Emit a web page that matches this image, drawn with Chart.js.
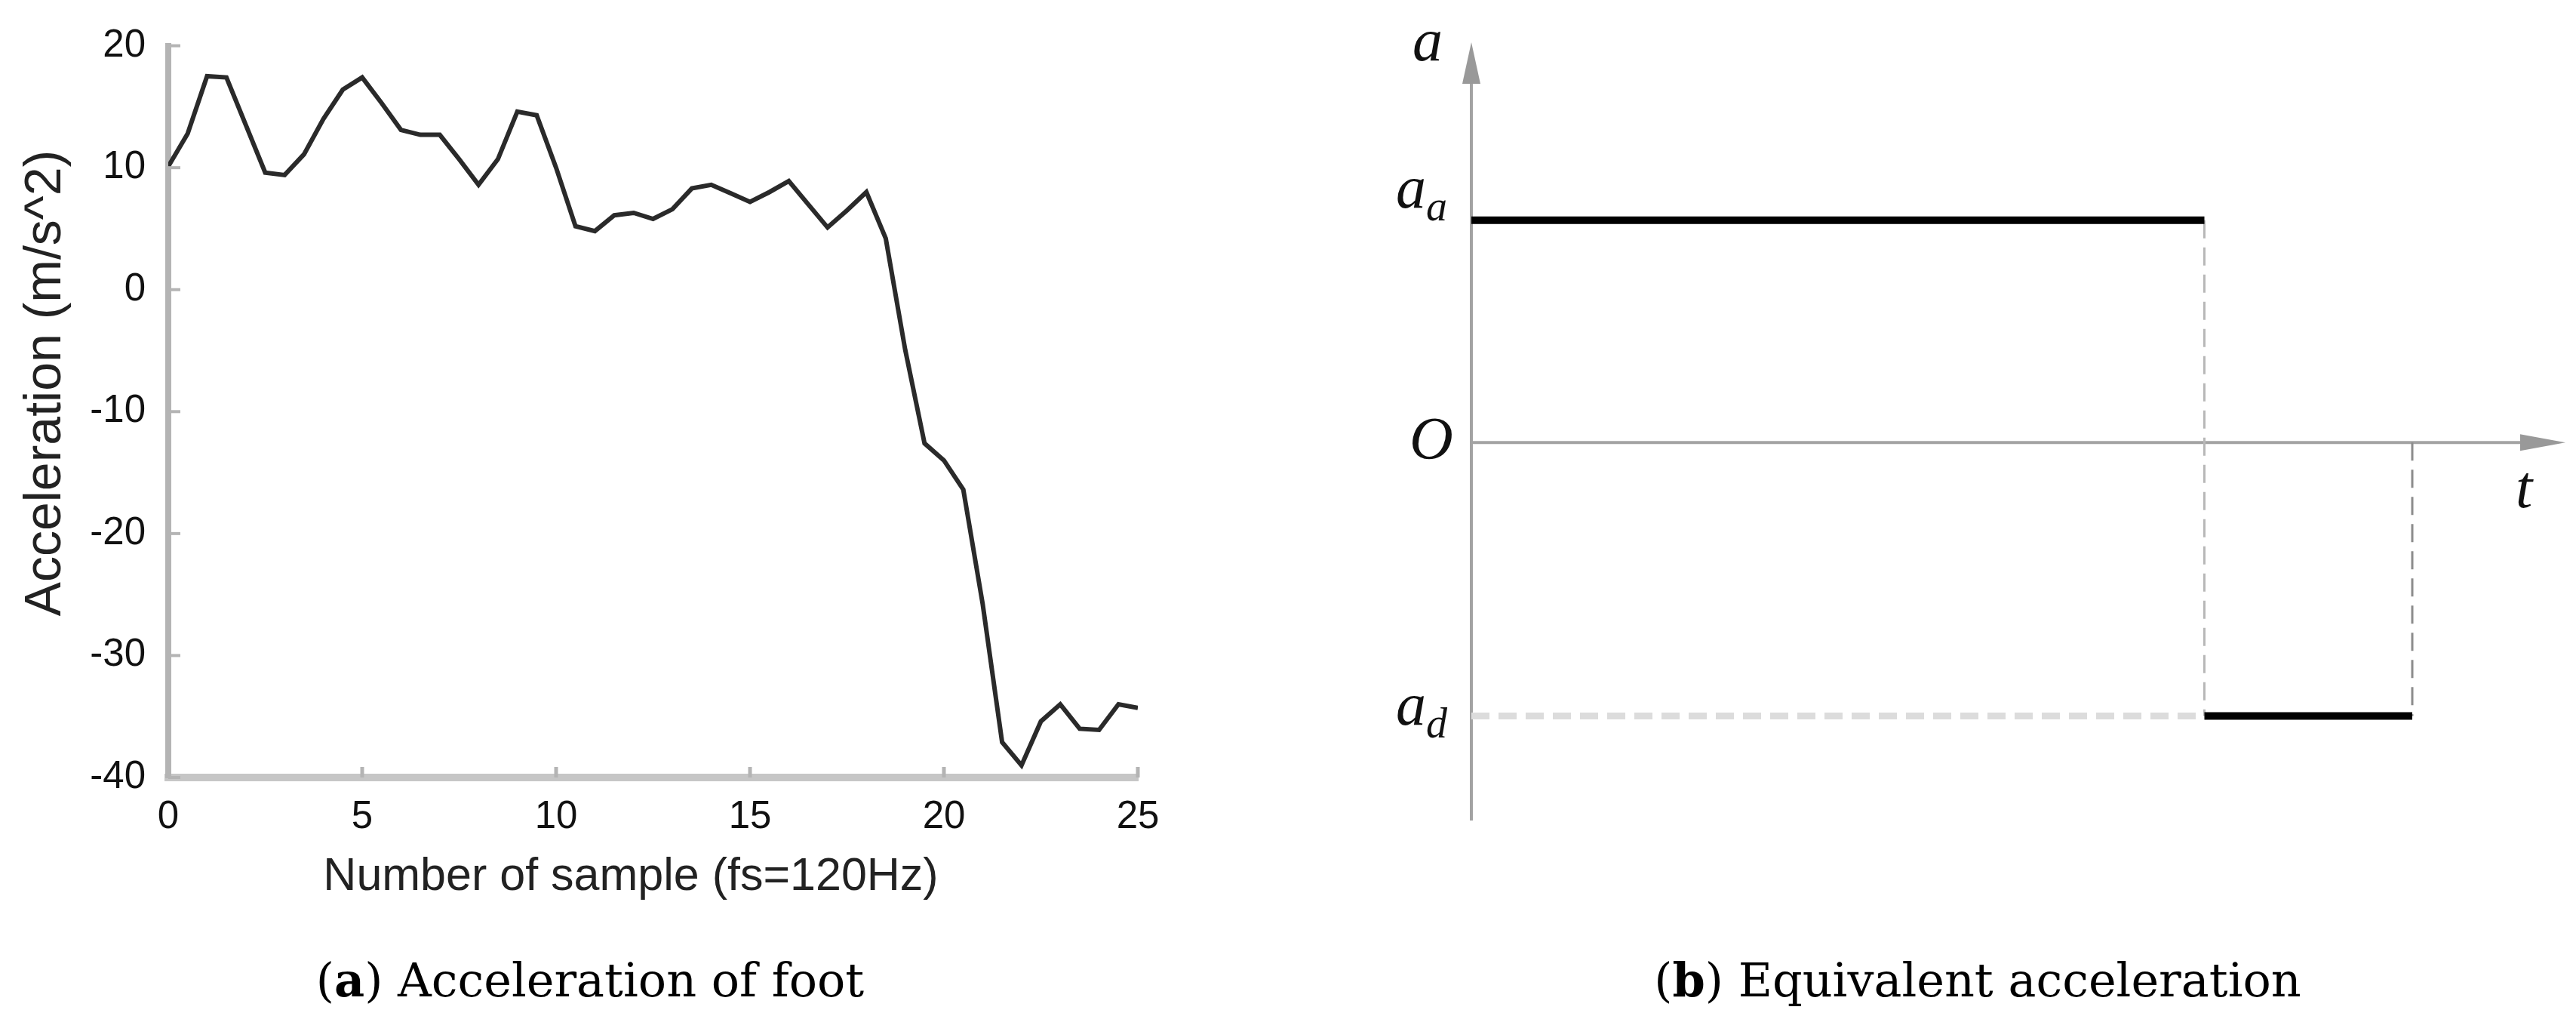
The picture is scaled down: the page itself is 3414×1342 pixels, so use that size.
<!DOCTYPE html>
<html>
<head>
<meta charset="utf-8">
<script src="https://cdn.jsdelivr.net/npm/chart.js@4.4.0/dist/chart.umd.min.js"></script>
<style>
  html, body { margin: 0; padding: 0; background: #fff; }
  body { width: 3414px; height: 1342px; position: relative; overflow: hidden; }
  #wrapA { position: absolute; left: 0; top: 0; width: 1600px; height: 1220px; }
  #wrapB { position: absolute; left: 1760px; top: 0; width: 1654px; height: 1220px; }
  .caption { position: absolute; top: 1263px; line-height: 72px; font-family: "DejaVu Serif", serif;
             font-size: 62px; color: #000; white-space: nowrap; transform: translateX(-50%); }
</style>
</head>
<body>
<div id="wrapA"><canvas id="footChart"></canvas></div>
<div id="wrapB"><canvas id="equivChart"></canvas></div>
<div class="caption" style="left:782px">(<b>a</b>) Acceleration of foot</div>
<div class="caption" style="left:2621px">(<b>b</b>) Equivalent acceleration</div>
<script>
const sampleIdx = [0, 0.5, 1, 1.5, 2, 2.5, 3, 3.5, 4, 4.5, 5, 5.5, 6, 6.5, 7, 7.5, 8, 8.5, 9, 9.5,
  10, 10.5, 11, 11.5, 12, 12.5, 13, 13.5, 14, 14.5, 15, 15.5, 16, 16.5, 17, 17.5, 18, 18.5, 19, 19.5,
  20, 20.5, 21, 21.5, 22, 22.5, 23, 23.5, 24, 24.5, 25];
const accel = [10.1, 12.8, 17.5, 17.4, 13.5, 9.6, 9.4, 11.1, 14.0, 16.4, 17.4, 15.3, 13.1, 12.7, 12.7, 10.7, 8.6, 10.7, 14.6, 14.3,
  10.0, 5.2, 4.8, 6.1, 6.3, 5.8, 6.6, 8.3, 8.6, 7.9, 7.2, 8.0, 8.9, 7.0, 5.1, 6.5, 8.0, 4.2, -4.9, -12.6,
  -14.0, -16.4, -25.8, -37.1, -39.0, -35.4, -34.0, -36.0, -36.1, -34.0, -34.3];
const xTicks = [0, 5, 10, 15, 20, 25];
const yTicks = [-40, -30, -20, -10, 0, 10, 20];
const xTitle = 'Number of sample (fs=120Hz)';
const yTitle = 'Acceleration (m/s^2)';

// (b) equivalent (step) acceleration, schematic
const stepTimes = [0, 6.7, 8.6];     // start, end of accel phase, end of decel phase
const stepLevels = [1, -1.23];       // a_a, a_d

const sans = '"Liberation Sans", Arial, sans-serif';

// inward tick marks and axis titles on the left chart
const footDecor = {
  id: 'footDecor',
  afterDraw(chart) {
    const { ctx, chartArea: ca, scales: { x, y } } = chart;
    ctx.save();
    ctx.strokeStyle = '#b4b4b4';
    ctx.lineWidth = 4;
    yTicks.forEach(v => {
      const py = y.getPixelForValue(v);
      ctx.beginPath(); ctx.moveTo(ca.left, py); ctx.lineTo(ca.left + 16, py); ctx.stroke();
    });
    ctx.lineWidth = 5;
    xTicks.forEach(v => {
      const px = x.getPixelForValue(v);
      ctx.beginPath(); ctx.moveTo(px, ca.bottom); ctx.lineTo(px, ca.bottom - 14); ctx.stroke();
    });

    ctx.fillStyle = '#222';
    ctx.textAlign = 'center';
    ctx.textBaseline = 'middle';
    ctx.font = '61px ' + sans;
    ctx.fillText(xTitle, ca.left + 613, ca.bottom + 132);
    ctx.translate(61, ca.top + 447);
    ctx.rotate(-Math.PI / 2);
    ctx.font = '68px ' + sans;
    ctx.fillText(yTitle, 0, 0);
    ctx.restore();
  }
};

new Chart(document.getElementById('footChart'), {
  type: 'line',
  data: {
    datasets: [{
      data: sampleIdx.map((s, i) => ({ x: s, y: accel[i] })),
      borderColor: '#2a2a2a',
      borderWidth: 6,
      pointRadius: 0,
      tension: 0,
      fill: false
    }]
  },
  options: {
    responsive: true,
    maintainAspectRatio: false,
    animation: false,
    layout: { padding: { top: 55, right: 92, bottom: 0, left: 0 } },
    plugins: { legend: { display: false }, tooltip: { enabled: false } },
    scales: {
      x: {
        type: 'linear', min: 0, max: 25,
        afterFit(s) { s.height = 190; },
        ticks: { stepSize: 5, color: '#111', padding: 22, font: { family: sans, size: 51 } },
        grid: { display: false, drawTicks: false },
        border: { display: true, color: '#c6c6c6', width: 10 }
      },
      y: {
        min: -40, max: 20,
        afterFit(s) { s.width = 223; },
        ticks: { stepSize: 10, color: '#111', padding: 30, font: { family: sans, size: 51 } },
        grid: { display: false, drawTicks: false },
        border: { display: true, color: '#b4b4b4', width: 8 }
      }
    }
  },
  plugins: [footDecor]
});

// arrows and italic labels for the schematic
const stepAxes = {
  id: 'stepAxes',
  beforeDatasetsDraw(chart) {
    const { ctx, chartArea: ca, scales: { x, y } } = chart;
    const x0 = x.getPixelForValue(0), y0 = y.getPixelForValue(0);
    ctx.save();
    ctx.strokeStyle = '#a3a3a3';
    ctx.fillStyle = '#999';
    ctx.lineWidth = 4;
    ctx.beginPath(); ctx.moveTo(x0, ca.bottom); ctx.lineTo(x0, ca.top + 30); ctx.stroke();
    ctx.beginPath(); ctx.moveTo(x0, y0); ctx.lineTo(ca.right - 30, y0); ctx.stroke();
    ctx.beginPath();
    ctx.moveTo(x0, ca.top); ctx.lineTo(x0 - 12, ca.top + 55); ctx.lineTo(x0 + 12, ca.top + 55); ctx.closePath();
    ctx.fill();
    ctx.beginPath();
    ctx.moveTo(ca.right, y0); ctx.lineTo(ca.right - 60, y0 - 11); ctx.lineTo(ca.right - 60, y0 + 11); ctx.closePath();
    ctx.fill();
    ctx.restore();
  },
  afterDraw(chart) {
    const { ctx, chartArea: ca, scales: { x, y } } = chart;
    const x0 = x.getPixelForValue(0), y0 = y.getPixelForValue(0);
    const yA = y.getPixelForValue(stepLevels[0]), yD = y.getPixelForValue(stepLevels[1]);
    const big = 'italic 80px "Liberation Serif", serif';
    const small = 'italic 56px "Liberation Serif", serif';
    ctx.save();
    ctx.fillStyle = '#111';
    ctx.textBaseline = 'alphabetic';
    ctx.font = big;
    ctx.textAlign = 'center';
    ctx.fillText('a', x0 - 58, 80);
    ctx.fillText('O', x0 - 53, y0 + 22);
    ctx.fillText('t', ca.right - 55, y0 + 86);
    ctx.textAlign = 'left';
    const lx = x0 - 100;
    const aw = ctx.measureText('a').width;
    ctx.fillText('a', lx, yA - 17);
    ctx.fillText('a', lx, yD + 11);
    ctx.font = small;
    ctx.fillText('a', lx + aw, yA);
    ctx.fillText('d', lx + aw, yD + 28);
    ctx.restore();
  }
};

const seg = (pts) => pts.map(([t, a]) => ({ x: t, y: a }));

new Chart(document.getElementById('equivChart'), {
  type: 'line',
  data: {
    datasets: [
      { data: seg([[stepTimes[0], stepLevels[0]], [stepTimes[1], stepLevels[0]]]),
        borderColor: '#000', borderWidth: 10 },
      { data: seg([[stepTimes[1], stepLevels[1]], [stepTimes[2], stepLevels[1]]]),
        borderColor: '#000', borderWidth: 10 },
      { data: seg([[stepTimes[1], stepLevels[0]], [stepTimes[1], stepLevels[1]]]),
        borderColor: '#b8b8b8', borderWidth: 3, borderDash: [24, 12] },
      { data: seg([[stepTimes[2], 0], [stepTimes[2], stepLevels[1]]]),
        borderColor: '#8c8c8c', borderWidth: 3, borderDash: [24, 12] },
      { data: seg([[stepTimes[0], stepLevels[1]], [stepTimes[1], stepLevels[1]]]),
        borderColor: '#dcdcdc', borderWidth: 9, borderDash: [24, 12] }
    ].map(d => Object.assign({ pointRadius: 0, tension: 0, fill: false }, d))
  },
  options: {
    responsive: true,
    maintainAspectRatio: false,
    animation: false,
    layout: { padding: { top: 56, right: 14, bottom: 133, left: 190 } },
    plugins: { legend: { display: false }, tooltip: { enabled: false } },
    scales: {
      x: { type: 'linear', min: 0, max: 10, display: false },
      y: { min: -1.7, max: 1.8, display: false }
    }
  },
  plugins: [stepAxes]
});
</script>
</body>
</html>
